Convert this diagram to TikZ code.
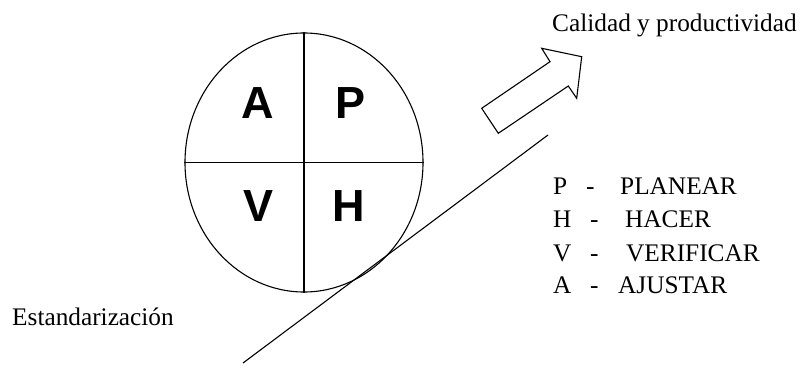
\documentclass[tikz,border=0pt]{standalone}
\usepackage{fontspec}
\setmainfont{Liberation Serif}
\newfontfamily\letrafont{Liberation Sans}
\usetikzlibrary{shapes.geometric,positioning}

\tikzset{
  texto/.style={font=\fontsize{25.3}{30}\selectfont,inner sep=0pt,anchor=base west},
  letra/.style={font=\letrafont\bfseries\fontsize{45}{45}\selectfont,inner sep=0pt},
  trazo/.style={line width=1.1pt}
}

\begin{document}
\begin{tikzpicture}[x=1pt,y=-1pt]
    \useasboundingbox (0,0) rectangle (803,366);
    \node [ellipse,draw,trazo,minimum width=238pt,minimum height=259pt,
    inner sep=0pt] (ciclo) at (304,162.5) {};
    \draw[trazo] (ciclo.north) -- (ciclo.south);
    \draw[trazo] (ciclo.west) -- (ciclo.east);
    \node[letra] (a) at (258,103) {A};
    \node[letra] (p) at (351,103) {P};
    \node[letra] (v) at (259,206) {V};
    \node[letra] (h) at (349,206) {H};
    \coordinate (pie) at (243,363);
    \coordinate (cima) at (548,135);
    \draw[trazo] (pie) -- (cima);
    \draw[trazo,line join=miter] (481.7,108.3) -- (550,61.7) -- (541.7,48.3)
    -- (581.7,56.7) -- (576.7,98.3) -- (568.3,86) -- (498.3,133.3) -- cycle;
    \node[texto] (calidad) at (552,32) {Calidad y productividad};
    \node[texto] (estandar) at (12,325) {Estandarización};
    \foreach \l/\w/\d/\p/\y in {P/PLANEAR/586/620/195,H/HACER/590/625/228,
      V/VERIFICAR/590/626/261,A/AJUSTAR/590/618/293} {
      \node[texto] (l\l) at (553,\y) {\l};
      \node[texto] (g\l) at (\d,\y) {-};
      \node[texto] (w\l) at (\p,\y) {\w};
    }
\end{tikzpicture}
\end{document}
